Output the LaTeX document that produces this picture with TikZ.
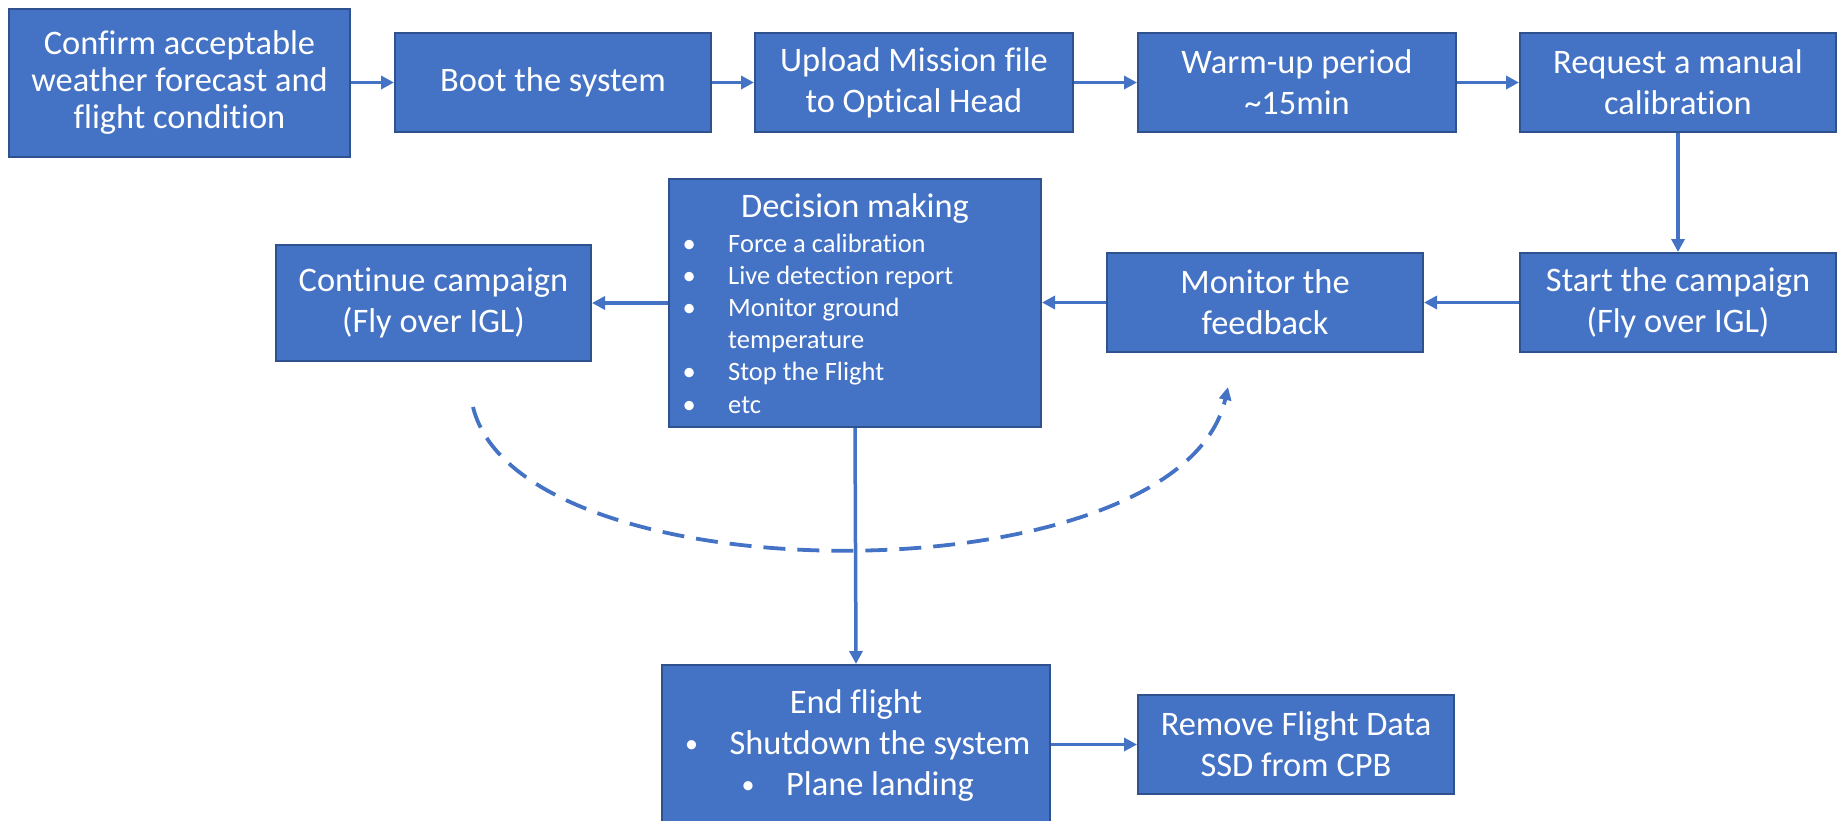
\documentclass[tikz,border=0pt]{standalone}
\usepackage{fontspec}
\setmainfont[Ligatures=NoCommon]{Carlito}
\usetikzlibrary{arrows.meta}
\definecolor{boxblue}{HTML}{4472C4}
\definecolor{boxedge}{HTML}{2F528F}
\newcommand{\smbul}{\makebox[20pt]{\raisebox{2pt}{\fontsize{26}{26}\selectfont •}}}
\begin{document}
\begin{tikzpicture}[x=1pt,y=-1pt,
  box/.style={draw=boxedge, fill=boxblue, line width=2pt, text=white, align=center, inner sep=0pt, font=\fontsize{34.4}{41}\selectfont},
  txt/.style={text=white, inner sep=0pt},
  conn/.style={draw=boxblue, line width=3.5pt, -{Triangle[length=13pt,width=13pt]}},
  loopline/.style={draw=boxblue, line width=3.8pt, dash pattern=on 22pt off 12pt, -{Triangle[length=13pt,width=12pt]}}
]
\useasboundingbox (0,0) rectangle (1841,820);

% top row
\node[box, minimum width=341pt, minimum height=148pt, font=\fontsize{34.4}{36.7}\selectfont] (confirm) at (179.5,82.5) {Confirm acceptable\\weather forecast and\\flight condition};
\node[box, minimum width=316pt, minimum height=99pt] (boot) at (553,82.5) {Boot the system};
\node[box, minimum width=318pt, minimum height=99pt] (upload) at (914,82.5) {Upload Mission file\\to Optical Head};
\node[box, minimum width=318pt, minimum height=99pt] (warm) at (1297,82.5) {Warm-up period\\\textasciitilde15min};
\node[box, minimum width=316pt, minimum height=99pt] (request) at (1678,82.5) {Request a manual\\calibration};

% middle row
\node[box, minimum width=316pt, minimum height=99pt] (start) at (1678,302.5) {Start the campaign\\(Fly over IGL)};
\node[box, minimum width=316pt, minimum height=99pt] (monitor) at (1265,302.5) {Monitor the\\feedback};
\node[box, minimum width=372pt, minimum height=248pt] (dec) at (855,303) {};
\node[txt, anchor=base, font=\fontsize{34.4}{41}\selectfont] (dectitle) at (855,217) {Decision making};
\node[txt, anchor=base west] (declist) at (676,252) {\fontsize{26.5}{32.2}\selectfont\begin{tabular}[t]{@{}l@{}}
\makebox[26pt]{•}\hspace{26pt}Force a calibration\\
\makebox[26pt]{•}\hspace{26pt}Live detection report\\
\makebox[26pt]{•}\hspace{26pt}Monitor ground\\
\hspace{52pt}temperature\\
\makebox[26pt]{•}\hspace{26pt}Stop the Flight\\
\makebox[26pt]{•}\hspace{26pt}etc
\end{tabular}};
\node[box, minimum width=315pt, minimum height=116pt] (cont) at (433.5,303) {Continue campaign\\(Fly over IGL)};

% bottom row
\node[box, minimum width=388pt, minimum height=175pt] (endf) at (856,752.5) {};
\node[txt, anchor=base] (endtxt) at (856,713) {\fontsize{34.4}{41}\selectfont\begin{tabular}[t]{@{}c@{}}
End flight\\
\smbul\hspace{28pt}Shutdown the system\\
\smbul\hspace{28pt}Plane landing
\end{tabular}};
\node[box, minimum width=316pt, minimum height=99pt] (remove) at (1296,744.5) {Remove Flight Data\\SSD from CPB};

% connectors
\draw[conn] (confirm.east) -- (boot.west);
\draw[conn] (boot) -- (upload);
\draw[conn] (upload) -- (warm);
\draw[conn] (warm) -- (request);
\draw[conn] (request) -- (start);
\draw[conn] (start) -- (monitor);
\draw[conn] (monitor.west) -- (dec.east |- monitor.west);
\draw[conn] (dec.west |- cont.east) -- (cont.east);
\draw[conn] (dec.south) -- (endf.north);
\draw[conn] (endf.east |- remove.west) -- (remove.west);

% dashed loop
\coordinate (loopstart) at (473,407);
\coordinate (loopend) at (1228,387);
\draw[loopline] (loopstart) .. controls (520,600) and (1180,600) .. (loopend);
\end{tikzpicture}
\end{document}
